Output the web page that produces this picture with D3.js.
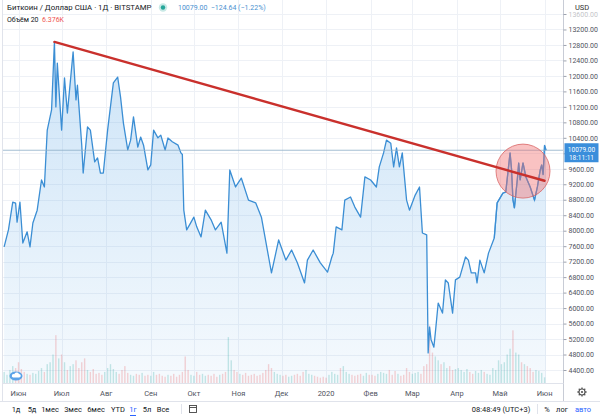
<!DOCTYPE html>
<html><head><meta charset="utf-8">
<script src="https://cdn.jsdelivr.net/npm/d3@7"></script>
<style>
body{margin:0;background:#fff;overflow:hidden}
svg{display:block;font-family:Roboto,"Open Sans",sans-serif}
</style>
</head><body>
<svg id="c" width="600" height="416"></svg>
<script>
// ---------- DATA ----------
const priceDates = ["2019-05-22","2019-05-25","2019-05-28","2019-05-30","2019-05-31","2019-06-02","2019-06-04","2019-06-07","2019-06-09","2019-06-11","2019-06-14","2019-06-17","2019-06-19","2019-06-21","2019-06-24","2019-06-26","2019-06-27","2019-06-28","2019-07-01","2019-07-03","2019-07-05","2019-07-09","2019-07-11","2019-07-12","2019-07-15","2019-07-16","2019-07-19","2019-07-21","2019-07-24","2019-07-26","2019-07-28","2019-07-30","2019-08-02","2019-08-06","2019-08-09","2019-08-11","2019-08-13","2019-08-16","2019-08-18","2019-08-20","2019-08-23","2019-08-25","2019-08-27","2019-08-30","2019-09-01","2019-09-03","2019-09-06","2019-09-08","2019-09-11","2019-09-13","2019-09-16","2019-09-20","2019-09-22","2019-09-23","2019-09-24","2019-09-26","2019-09-28","2019-10-01","2019-10-03","2019-10-06","2019-10-09","2019-10-13","2019-10-16","2019-10-20","2019-10-24","2019-10-26","2019-10-30","2019-11-03","2019-11-08","2019-11-13","2019-11-17","2019-11-22","2019-11-24","2019-11-29","2019-12-04","2019-12-08","2019-12-12","2019-12-17","2019-12-19","2019-12-23","2019-12-28","2020-01-02","2020-01-05","2020-01-06","2020-01-08","2020-01-12","2020-01-14","2020-01-18","2020-01-21","2020-01-25","2020-01-28","2020-02-01","2020-02-05","2020-02-07","2020-02-10","2020-02-12","2020-02-15","2020-02-17","2020-02-19","2020-02-21","2020-02-23","2020-02-26","2020-02-28","2020-03-03","2020-03-06","2020-03-08","2020-03-11","2020-03-12","2020-03-13","2020-03-14","2020-03-16","2020-03-17","2020-03-19","2020-03-22","2020-03-24","2020-03-26","2020-03-29","2020-03-31","2020-04-03","2020-04-07","2020-04-09","2020-04-11","2020-04-14","2020-04-15","2020-04-17","2020-04-20","2020-04-23","2020-04-27","2020-04-29","2020-05-03","2020-05-05","2020-05-08","2020-05-09","2020-05-10","2020-05-11","2020-05-13","2020-05-14","2020-05-15","2020-05-17","2020-05-19","2020-05-22","2020-05-25","2020-05-27","2020-05-29","2020-05-30","2020-05-31","2020-06-01","2020-06-02"];
const closes = [7580,8020,8740,8710,8220,8740,7680,7970,7580,8200,8530,9310,9130,10600,11120,12880,11200,12330,10600,11950,11040,12620,11380,11760,10210,9490,10680,10600,9780,9880,9490,9490,10600,11820,11970,11450,10780,10090,10340,10940,10160,10420,10210,9570,9700,10600,10400,10470,10085,10395,10300,10210,10010,9970,8530,8020,8150,8350,8100,7840,8530,8280,8020,8220,7420,9570,9130,9360,8790,8720,8350,7320,6910,7760,7240,7500,7170,6650,7240,7500,7170,6930,7320,7420,8100,8020,8790,8870,8610,8350,9390,9310,9130,9650,10010,10340,10260,9650,10140,9650,10010,8790,8530,8920,9130,7940,7890,4840,5510,5190,4990,5360,6130,5870,6730,6650,5870,6730,6800,7320,7240,6910,6910,6650,7240,6910,7420,7810,8720,8970,9000,10010,9600,8800,8590,9310,9750,9310,9750,9390,9130,8790,9130,9570,9700,9450,10204,10079];

// volume (thousand BTC), one bar every 2 days starting 2019-05-22
const volumeStart = "2019-05-22";
const volumes = [12,9,14,18,16,
 22,15,12,10,9,11,10,13,16,12,20,22,30,50,26,
 30,22,14,18,20,24,16,22,26,14,12,15,10,11,9,12,
 16,20,15,12,10,14,18,11,9,8,10,9,11,8,9,
 8,12,9,10,8,7,9,8,10,7,9,12,28,14,9,
 8,12,9,10,8,9,8,10,7,9,10,12,48,24,14,12,
 10,9,11,8,9,10,8,9,11,14,20,16,12,10,9,
 8,9,7,8,9,10,8,12,14,10,9,8,7,6,7,
 6,9,12,10,9,16,18,12,10,9,8,9,10,8,11,9,
 9,8,10,12,11,10,14,9,13,10,8,9,16,12,
 10,11,12,10,18,20,60,32,28,24,20,22,16,18,14,15,
 16,14,12,15,12,10,13,11,14,12,10,9,16,14,24,
 20,22,30,36,55,32,30,22,20,18,16,12,14,13,11,
 6.376];

const priceTicks = [4400,4800,5200,5600,6000,6400,6800,7200,7600,8000,8400,8800,9200,9600,10000,10400,10800,11200,11600,12000,12400,12800,13200,13600];
const monthTicks = ["2019-06-01","2019-07-01","2019-08-01","2019-09-01","2019-10-01","2019-11-01","2019-12-01","2020-01-01","2020-02-01","2020-03-01","2020-04-01","2020-05-01","2020-06-01"];
const monthLabels = ["Июн","Июл","Авг","Сен","Окт","Ноя","Дек","2020","Фев","Мар","Апр","Май","Июн"];

const trendDates = ["2019-06-26","2020-06-01"];
const trendValues = [12880, 9290];
const circleDate = "2020-05-17";
const circleValue = 9540;

const lastPrice = 10079.00;
const headerTitle = "Биткоин / Доллар США · 1Д · BITSTAMP";
const headerChange = "10079.00  −124.64 (−1.22%)";
const volumeLabel = "Объём 20";
const volumeValue = "6.376K";
const rangeButtons = ["1д","5д","1мес","3мес","6мес","YTD","1г","5л","Все"];

// ---------- SETUP ----------
const parse = d3.timeParse("%Y-%m-%d");
const data = priceDates.map((d,i)=>({date:parse(d), close:closes[i]}));
const svg = d3.select("#c");
const W = 600, H = 416;
const axisX = 563.5, plotBottom = 383.5;

const x = d3.scaleTime().domain([parse("2019-06-01"), parse("2020-06-02")]).range([18.5, 546]);
const y = d3.scaleLinear().domain([4400, 13600]).range([370, 14]);
const vy = d3.scaleLinear().domain([0, 60]).range([plotBottom, plotBottom - 58]);
const priceAt = d3.scaleTime().domain(data.map(d=>d.date)).range(closes).clamp(true);

svg.append("rect").attr("width",W).attr("height",H).attr("fill","#fff");

const defs = svg.append("defs");
const grad = defs.append("linearGradient").attr("id","fillg").attr("x1",0).attr("y1",0).attr("x2",0).attr("y2",1);
grad.append("stop").attr("offset","0%").attr("stop-color","#5fa8e6").attr("stop-opacity",0.32);
grad.append("stop").attr("offset","100%").attr("stop-color","#5fa8e6").attr("stop-opacity",0.06);
defs.append("clipPath").attr("id","plotclip").append("rect").attr("x",3).attr("y",0).attr("width",axisX-3).attr("height",plotBottom);

// grid
const grid = svg.append("g");
grid.selectAll("line.h").data(priceTicks).join("line")
  .attr("x1",3).attr("x2",axisX).attr("y1",d=>Math.round(y(d))+0.5).attr("y2",d=>Math.round(y(d))+0.5)
  .attr("stroke","#eef1f6").attr("stroke-width",1);
grid.selectAll("line.v").data(monthTicks).join("line")
  .attr("x1",d=>Math.round(x(parse(d)))+0.5).attr("x2",d=>Math.round(x(parse(d)))+0.5)
  .attr("y1",0).attr("y2",plotBottom)
  .attr("stroke","#eef1f6").attr("stroke-width",1);

const plot = svg.append("g").attr("clip-path","url(#plotclip)");

// volume
const vStart = parse(volumeStart);
const vData = volumes.map((v,i)=>{const dt=d3.timeDay.offset(vStart, i*2); return {date:dt, v, up: priceAt(dt) >= priceAt(d3.timeDay.offset(dt,-2))};});
plot.selectAll("rect.vol").data(vData).join("rect")
  .attr("x",d=>x(d.date)-0.7).attr("width",1.4)
  .attr("y",d=>vy(d.v)).attr("height",d=>plotBottom - vy(d.v))
  .attr("fill",d=>d.up ? "rgba(38,166,154,0.26)" : "rgba(239,83,80,0.26)");

// area + line
const area = d3.area().x(d=>x(d.date)).y0(plotBottom).y1(d=>y(d.close));
plot.append("path").datum(data).attr("d",area).attr("fill","url(#fillg)");
const line = d3.line().x(d=>x(d.date)).y(d=>y(d.close));
plot.append("path").datum(data).attr("d",line).attr("fill","none")
  .attr("stroke","#3b8ed4").attr("stroke-width",1.3).attr("stroke-linejoin","round");

// last price horizontal line
svg.append("line").attr("x1",3).attr("x2",axisX)
  .attr("y1",y(lastPrice)).attr("y2",y(lastPrice))
  .attr("stroke","#8fb0c8").attr("stroke-width",1).attr("opacity",0.8);

// circle annotation
svg.append("circle").attr("cx",x(parse(circleDate))).attr("cy",y(circleValue)).attr("r",27)
  .attr("fill","rgba(240,110,110,0.42)").attr("stroke","rgba(215,95,95,0.75)").attr("stroke-width",1);

// line visible through the circle
plot.append("path").datum(data.filter(d=>d.date>=parse("2020-04-25"))).attr("d",line).attr("fill","none")
  .attr("stroke","#3b8ed4").attr("stroke-width",1.3).attr("opacity",0.75);

// trend line
svg.append("line")
  .attr("x1",x(parse(trendDates[0]))).attr("y1",y(trendValues[0]))
  .attr("x2",x(parse(trendDates[1]))).attr("y2",y(trendValues[1]))
  .attr("stroke","#c9302c").attr("stroke-width",2.4).attr("stroke-linecap","round");

// left border
svg.append("line").attr("x1",2.5).attr("x2",2.5).attr("y1",0).attr("y2",401).attr("stroke","#e0e3eb");

// right axis
const yAxis = d3.axisRight(y).tickValues(priceTicks).tickFormat(d3.format(".2f")).tickSize(3).tickPadding(2);
const ya = svg.append("g").attr("transform",`translate(${axisX},0)`).call(yAxis);
ya.select(".domain").attr("stroke","#c8ccd6").attr("d",`M0,0V${H-15}`);
ya.selectAll(".tick line").attr("stroke","#9ea3ae");
ya.selectAll(".tick text").attr("fill","#50535e").attr("font-size","7px").attr("font-family","Roboto,sans-serif");
ya.selectAll(".tick").filter(d=>d===13600).select("text").attr("opacity",0.35);
ya.selectAll(".tick").filter(d=>d===10000).select("text").attr("opacity",0);

// USD label
svg.append("rect").attr("x",571).attr("y",2).attr("width",22).attr("height",10).attr("fill","#fff");
svg.append("text").attr("x",582).attr("y",10).attr("text-anchor","middle").attr("font-size","7.5px").attr("fill","#333").text("USD");

// price tag
const py = y(lastPrice);
svg.append("rect").attr("x",axisX+1).attr("y",py-7).attr("width",34).attr("height",19).attr("fill","#3a8edb");
svg.append("text").attr("x",axisX+18).attr("y",py+1.5).attr("text-anchor","middle").attr("font-size","6.5px").attr("fill","#fff").text(d3.format(".2f")(lastPrice));
svg.append("text").attr("x",axisX+18).attr("y",py+9.5).attr("text-anchor","middle").attr("font-size","6.5px").attr("fill","#fff").text("18:11:11");

// x axis
svg.append("line").attr("x1",2.5).attr("x2",axisX).attr("y1",plotBottom).attr("y2",plotBottom).attr("stroke","#e0e3eb");
const xa = svg.append("g");
xa.selectAll("text").data(monthTicks).join("text")
  .attr("x",d=>x(parse(d))).attr("y",396).attr("text-anchor","middle")
  .attr("font-size","7.5px").attr("fill","#50535e").text((d,i)=>monthLabels[i]);

// gear
const gear = svg.append("g").attr("transform","translate(582,392)");
gear.append("circle").attr("r",3).attr("fill","none").attr("stroke","#555").attr("stroke-width",1.1);
gear.selectAll("line").data(d3.range(8)).join("line")
  .attr("x1",d=>3*Math.cos(d*Math.PI/4)).attr("y1",d=>3*Math.sin(d*Math.PI/4))
  .attr("x2",d=>4.6*Math.cos(d*Math.PI/4)).attr("y2",d=>4.6*Math.sin(d*Math.PI/4))
  .attr("stroke","#555").attr("stroke-width",1.3);
gear.append("circle").attr("r",1.1).attr("fill","#555");

// bottom toolbar
svg.append("line").attr("x1",0).attr("x2",W).attr("y1",401.5).attr("y2",401.5).attr("stroke","#e0e3eb");
const btnX = [16,32,50,73,96,118,133,147,163];
svg.append("g").selectAll("text").data(rangeButtons).join("text")
  .attr("x",(d,i)=>btnX[i]).attr("y",412).attr("text-anchor","middle").attr("font-size","7.5px")
  .attr("fill",d=>d==="1г"?"#2962ff":"#131722").text(d=>d);
svg.append("line").attr("x1",130).attr("x2",136).attr("y1",415.5).attr("y2",415.5).attr("stroke","#2962ff");
svg.append("line").attr("x1",181.5).attr("x2",181.5).attr("y1",404).attr("y2",414).attr("stroke","#e0e3eb");
const cal = svg.append("g").attr("transform","translate(193,409)");
cal.append("rect").attr("x",-3.5).attr("y",-3.5).attr("width",7).attr("height",7).attr("fill","none").attr("stroke","#444").attr("stroke-width",0.9);
cal.append("line").attr("x1",-3.5).attr("x2",3.5).attr("y1",-1.5).attr("y2",-1.5).attr("stroke","#444").attr("stroke-width",0.9);
svg.append("text").attr("x",501).attr("y",412).attr("text-anchor","middle").attr("font-size","7.5px").attr("fill","#131722").text("08:48:49 (UTC+3)");
svg.append("line").attr("x1",537.5).attr("x2",537.5).attr("y1",404).attr("y2",414).attr("stroke","#e0e3eb");
svg.append("text").attr("x",547).attr("y",412).attr("text-anchor","middle").attr("font-size","7.5px").attr("fill","#131722").text("%");
svg.append("text").attr("x",562).attr("y",412).attr("text-anchor","middle").attr("font-size","7.5px").attr("fill","#131722").text("лог");
svg.append("text").attr("x",583).attr("y",412).attr("text-anchor","middle").attr("font-size","7.5px").attr("fill","#2962ff").text("авто");

// logo
const logo = svg.append("g").attr("transform","translate(16,376)");
logo.append("ellipse").attr("rx",6.5).attr("ry",4.5).attr("fill","#5aa2e8");
logo.append("path").attr("d","M-3,1.5 h6 a1.8,1.8 0 0 0 0,-3.6 a2.6,2.6 0 0 0 -4.8,0.3 a1.7,1.7 0 0 0 -1.2,3.3z").attr("fill","#fff");

// header
svg.append("text").attr("x",7).attr("y",10).attr("font-size","7.8px").attr("fill","#131722").text(headerTitle);
svg.append("circle").attr("cx",163).attr("cy",7.5).attr("r",4.2).attr("fill","rgba(38,166,154,0.25)");
svg.append("circle").attr("cx",163).attr("cy",7.5).attr("r",2.2).attr("fill","#26a69a");
svg.append("text").attr("x",178).attr("y",10).attr("font-size","7px").attr("fill","#4a90d0").attr("xml:space","preserve").text(headerChange);
svg.append("text").attr("x",7).attr("y",22).attr("font-size","7px").attr("fill","#131722").text(volumeLabel);
svg.append("text").attr("x",42).attr("y",22).attr("font-size","7px").attr("fill","#ef5350").text(volumeValue);
</script>
</body></html>
